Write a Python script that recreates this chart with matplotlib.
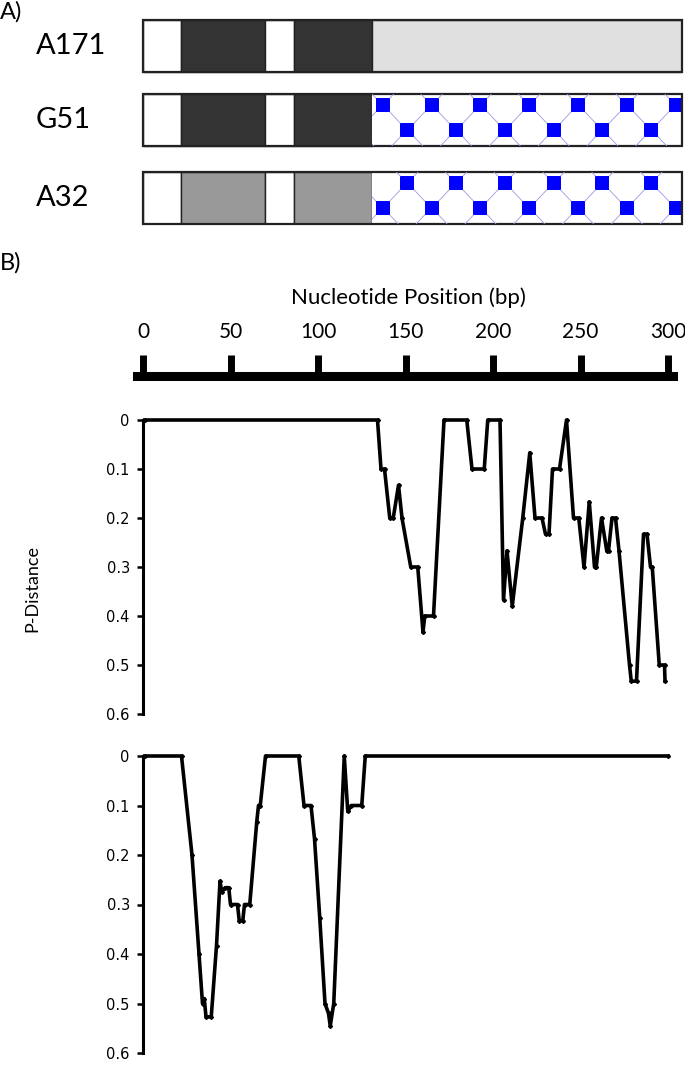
import matplotlib
matplotlib.use("Agg")
import matplotlib.pyplot as plt
from matplotlib.patches import Rectangle

# --- data -------------------------------------------------------------
# panel A: domain boundaries along each construct (% of length)
segment_edges = [0, 7, 22.6, 28, 42.4, 100]
construct_names = ["A171", "G51", "A32"]
construct_fills = [
    ["white", "#333333", "white", "#333333", "#e0e0e0"],
    ["white", "#333333", "white", "#333333", "tiles_top"],
    ["white", "#999999", "white", "#999999", "tiles_bottom"],
]

# panel B: sliding-window p-distance (vertices)
top_pos = [1, 134, 136, 138, 141, 143, 146, 148, 153, 157,
           160, 161, 166, 172, 185, 188, 195, 197, 204, 206,
           208, 211, 217, 221, 224, 228, 230, 232, 234, 238,
           242, 246, 249, 252, 255, 258, 259, 262, 265, 266,
           268, 270, 272, 278, 279, 282, 286, 288, 290, 291,
           295, 298, 298.3]
top_pdist = [0, 0, 0.1, 0.1, 0.2, 0.2, 0.133, 0.2, 0.3, 0.3,
             0.433, 0.4, 0.4, 0, 0, 0.1, 0.1, 0, 0, 0.367,
             0.267, 0.38, 0.2, 0.067, 0.2, 0.2, 0.233, 0.233, 0.1, 0.1,
             0, 0.2, 0.2, 0.3, 0.167, 0.3, 0.3, 0.2, 0.267, 0.267,
             0.2, 0.2, 0.267, 0.5, 0.533, 0.533, 0.233, 0.233, 0.3, 0.3,
             0.5, 0.5, 0.533]

bot_pos = [1, 22, 28, 32, 34, 35, 36, 39, 42, 44,
           45, 47, 49, 50, 54, 55, 57, 58, 61, 65,
           66, 67, 70, 89, 92, 96, 98, 101, 104, 106,
           107, 109, 115, 117, 119, 125, 127, 300]
bot_pdist = [0, 0, 0.2, 0.4, 0.5, 0.49, 0.527, 0.527, 0.383, 0.253,
             0.274, 0.266, 0.266, 0.3, 0.3, 0.333, 0.333, 0.3, 0.3, 0.133,
             0.1, 0.1, 0, 0, 0.1, 0.1, 0.167, 0.327, 0.5, 0.52,
             0.545, 0.5, 0, 0.112, 0.1, 0.1, 0, 0]

scale_ticks = [0, 50, 100, 150, 200, 250, 300]
pdist_ticks = [0, 0.1, 0.2, 0.3, 0.4, 0.5, 0.6]
pdist_labels = ["0", "0.1", "0.2", "0.3", "0.4", "0.5", "0.6"]

# --- figure -----------------------------------------------------------
W, H = 685, 1090
fig = plt.figure(figsize=(W / 100, H / 100), dpi=100)
NARROW = ["Lato", "DejaVu Sans"]


def box(left, top, right, bottom):
    return [left / W, 1 - bottom / H, (right - left) / W, (bottom - top) / H]


def draw_tiles(ax, x0, x1, y0, y1, first_top):
    clip = Rectangle((x0, y0), x1 - x0, y1 - y0, transform=ax.transData)
    s, dx, dy = 14, 24.4, 25
    for k in range(-1, 14):
        cx = x0 + 11.3 + k * dx
        if (k % 2 == 0) == first_top:
            ys = [y0 + 11, y0 + 61]
        else:
            ys = [y0 - 14, y0 + 36]
        for cy in ys:
            for sgn in (1, -1):
                ln, = ax.plot([cx + s / 2, cx + dx - s / 2],
                              [cy + sgn * s / 2, cy + sgn * (dy - s / 2)],
                              color="#9a9ae6", lw=0.6)
                ln.set_clip_path(clip)
            sq = Rectangle((cx - s / 2, cy - s / 2), s, s, color="#0000ff", lw=0)
            ax.add_patch(sq)
            sq.set_clip_path(clip)


# panel A
axA = fig.add_axes(box(143, 20, 682, 224))
axA.set_xlim(0, 539)
axA.set_ylim(204, 0)
axA.axis("off")
row_tops = [0, 74, 152]
row_h = 52
for name, fills, y0 in zip(construct_names, construct_fills, row_tops):
    xs = [e * 5.39 for e in segment_edges]
    for i, fill in enumerate(fills):
        x0, x1 = xs[i], xs[i + 1]
        if fill.startswith("tiles"):
            axA.add_patch(Rectangle((x0, y0), x1 - x0, row_h, facecolor="white",
                                    edgecolor="none"))
            draw_tiles(axA, x0, x1, y0, y0 + row_h, fill == "tiles_top")
        else:
            axA.add_patch(Rectangle((x0, y0), x1 - x0, row_h, facecolor=fill,
                                    edgecolor="#222222", lw=1.0))
    axA.add_patch(Rectangle((0, y0), 539, row_h, facecolor="none",
                            edgecolor="#222222", lw=1.6, clip_on=False))
    fig.text(36 / W, 1 - (20 + y0 + row_h / 2) / H, name, family=NARROW,
             fontsize=21, va="center", ha="left")

fig.text(0, 1 - 1 / H, "A)", family=NARROW, fontsize=17, va="top", ha="left")
fig.text(0, 1 - 252 / H, "B)", family=NARROW, fontsize=17, va="top", ha="left")

# scale bar
axS = fig.add_axes(box(137, 348, 673, 376))
axS.set_xlim(-6 / 1.75, 300 + 5 / 1.75)
axS.set_ylim(0, 1)
for side in ("top", "left", "right"):
    axS.spines[side].set_visible(False)
axS.spines["bottom"].set_linewidth(6.5)
axS.set_yticks([])
axS.set_xticks(scale_ticks)
axS.set_xticklabels([str(t) for t in scale_ticks], family=NARROW, fontsize=15)
axS.tick_params(axis="x", direction="in", length=15, width=5, bottom=True,
                top=False, labelbottom=False, labeltop=True, pad=4)
fig.text(408 / W, 1 - 298 / H, "Nucleotide Position (bp)", family=NARROW,
         fontsize=16, ha="center", va="center")

# p-distance profiles
for (t, b), xs, ys in [((420, 714), top_pos, top_pdist),
                       ((756, 1053), bot_pos, bot_pdist)]:
    ax = fig.add_axes(box(143, t, 668, b))
    ax.plot(xs, ys, color="black", lw=2.6, marker="D", ms=2, clip_on=False)
    ax.set_xlim(0, 300)
    ax.set_ylim(0.6, 0)
    for side in ("top", "right", "bottom"):
        ax.spines[side].set_visible(False)
    ax.spines["left"].set_linewidth(2.2)
    ax.set_xticks([])
    ax.set_yticks(pdist_ticks)
    ax.set_yticklabels(pdist_labels, fontsize=10.5)
    ax.tick_params(axis="y", direction="out", length=4.5, width=1.8, pad=5)

fig.text(32 / W, 1 - 588 / H, "P-Distance", family=NARROW, fontsize=13,
         rotation=90, ha="center", va="center")

fig.savefig("out.png", dpi=100)
